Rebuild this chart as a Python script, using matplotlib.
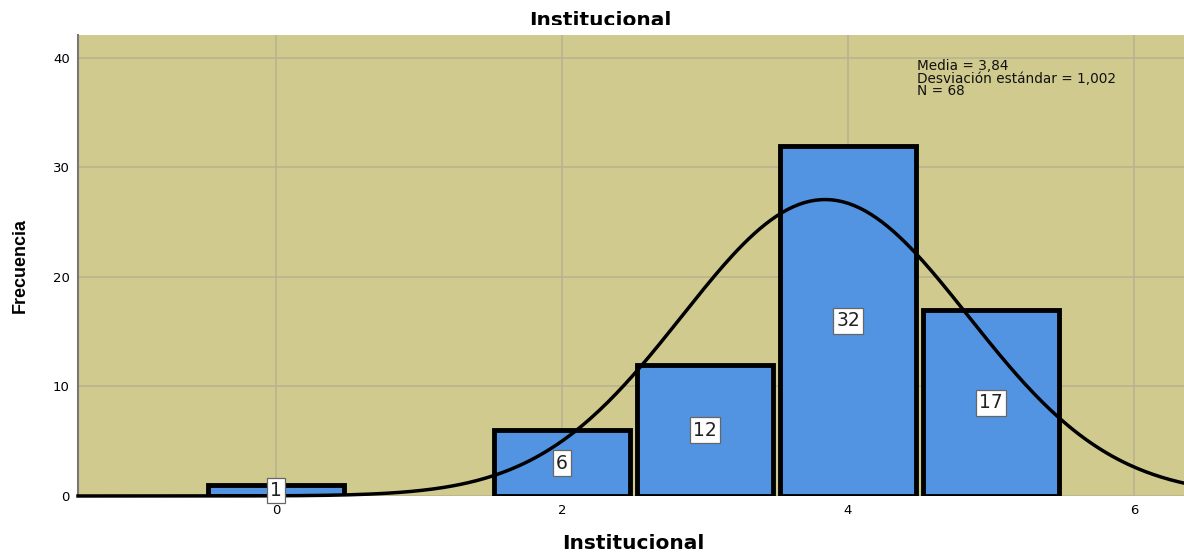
import numpy as np
import matplotlib
matplotlib.use("Agg")
import matplotlib.pyplot as plt
from matplotlib.patches import Rectangle

plt.rcParams['font.family'] = ['DejaVu Sans']

# datos del histograma
valores = [0, 2, 3, 4, 5]
frecuencias = [1, 6, 12, 32, 17]
media = 3.84
desv = 1.002
n_total = 68
xticks = [0, 2, 4, 6]
yticks = [0, 10, 20, 30, 40]

FONDO = '#D0CA8E'
BARRA = '#5294E2'
REJILLA = '#B9B48F'

fig = plt.figure(figsize=(11.84, 5.53), dpi=100)
ax = fig.add_axes([0.0659, 0.1031, 0.9341, 0.8336])
ax.set_facecolor(FONDO)

ax.set_xlim(-1.385, 6.35)
ax.set_ylim(0, 42.1)
ax.set_xticks(xticks)
ax.set_yticks(yticks)
ax.grid(True, color=REJILLA, linewidth=1.2)
ax.set_axisbelow(True)

ax.bar(valores, frecuencias, width=0.95, color=BARRA, edgecolor='black',
       linewidth=3.5, zorder=2)

xs = np.linspace(-1.385, 6.35, 400)
curva = n_total / (desv * np.sqrt(2 * np.pi)) * np.exp(-0.5 * ((xs - media) / desv) ** 2)
ax.plot(xs, curva, color='black', linewidth=2.5, zorder=3, clip_on=False)

for v, f in zip(valores, frecuencias):
    ax.text(v, f / 2, str(f), ha='center', va='center', fontsize=13.5, zorder=4,
            color='#222222',
            bbox=dict(boxstyle='square,pad=0.18', facecolor='white', edgecolor='#666666', linewidth=0.9))

ax.text(4.48, 39.9, "Media = 3,84\nDesviación estándar = 1,002\nN = 68",
        fontsize=9.8, va='top', ha='left', linespacing=0.88, color='#111111')

for s in ['top', 'right']:
    ax.spines[s].set_visible(False)
ax.spines['left'].set_color('#777777')
ax.spines['left'].set_linewidth(1.5)
ax.spines['bottom'].set_visible(False)
ax.tick_params(axis='both', length=0, labelsize=9.5, pad=6)

fig.text(0.0169, 0.52, "Frecuencia", rotation=90, ha='center', va='center',
         fontsize=13, fontweight='bold', family='Liberation Sans')
fig.text(0.535, 0.017, "Institucional", ha='center', va='center',
         fontsize=14.5, fontweight='bold')
fig.text(0.507, 1 - 20 / 553, "Institucional", ha='center', va='center',
         fontsize=14.5, fontweight='bold')
# el título aparece recortado por abajo en el original
fig.add_artist(Rectangle((0.3, 1 - 35 / 553), 0.4, 10 / 553, transform=fig.transFigure,
                         facecolor='white', edgecolor='none', zorder=10))

fig.savefig("out.png", dpi=100)
